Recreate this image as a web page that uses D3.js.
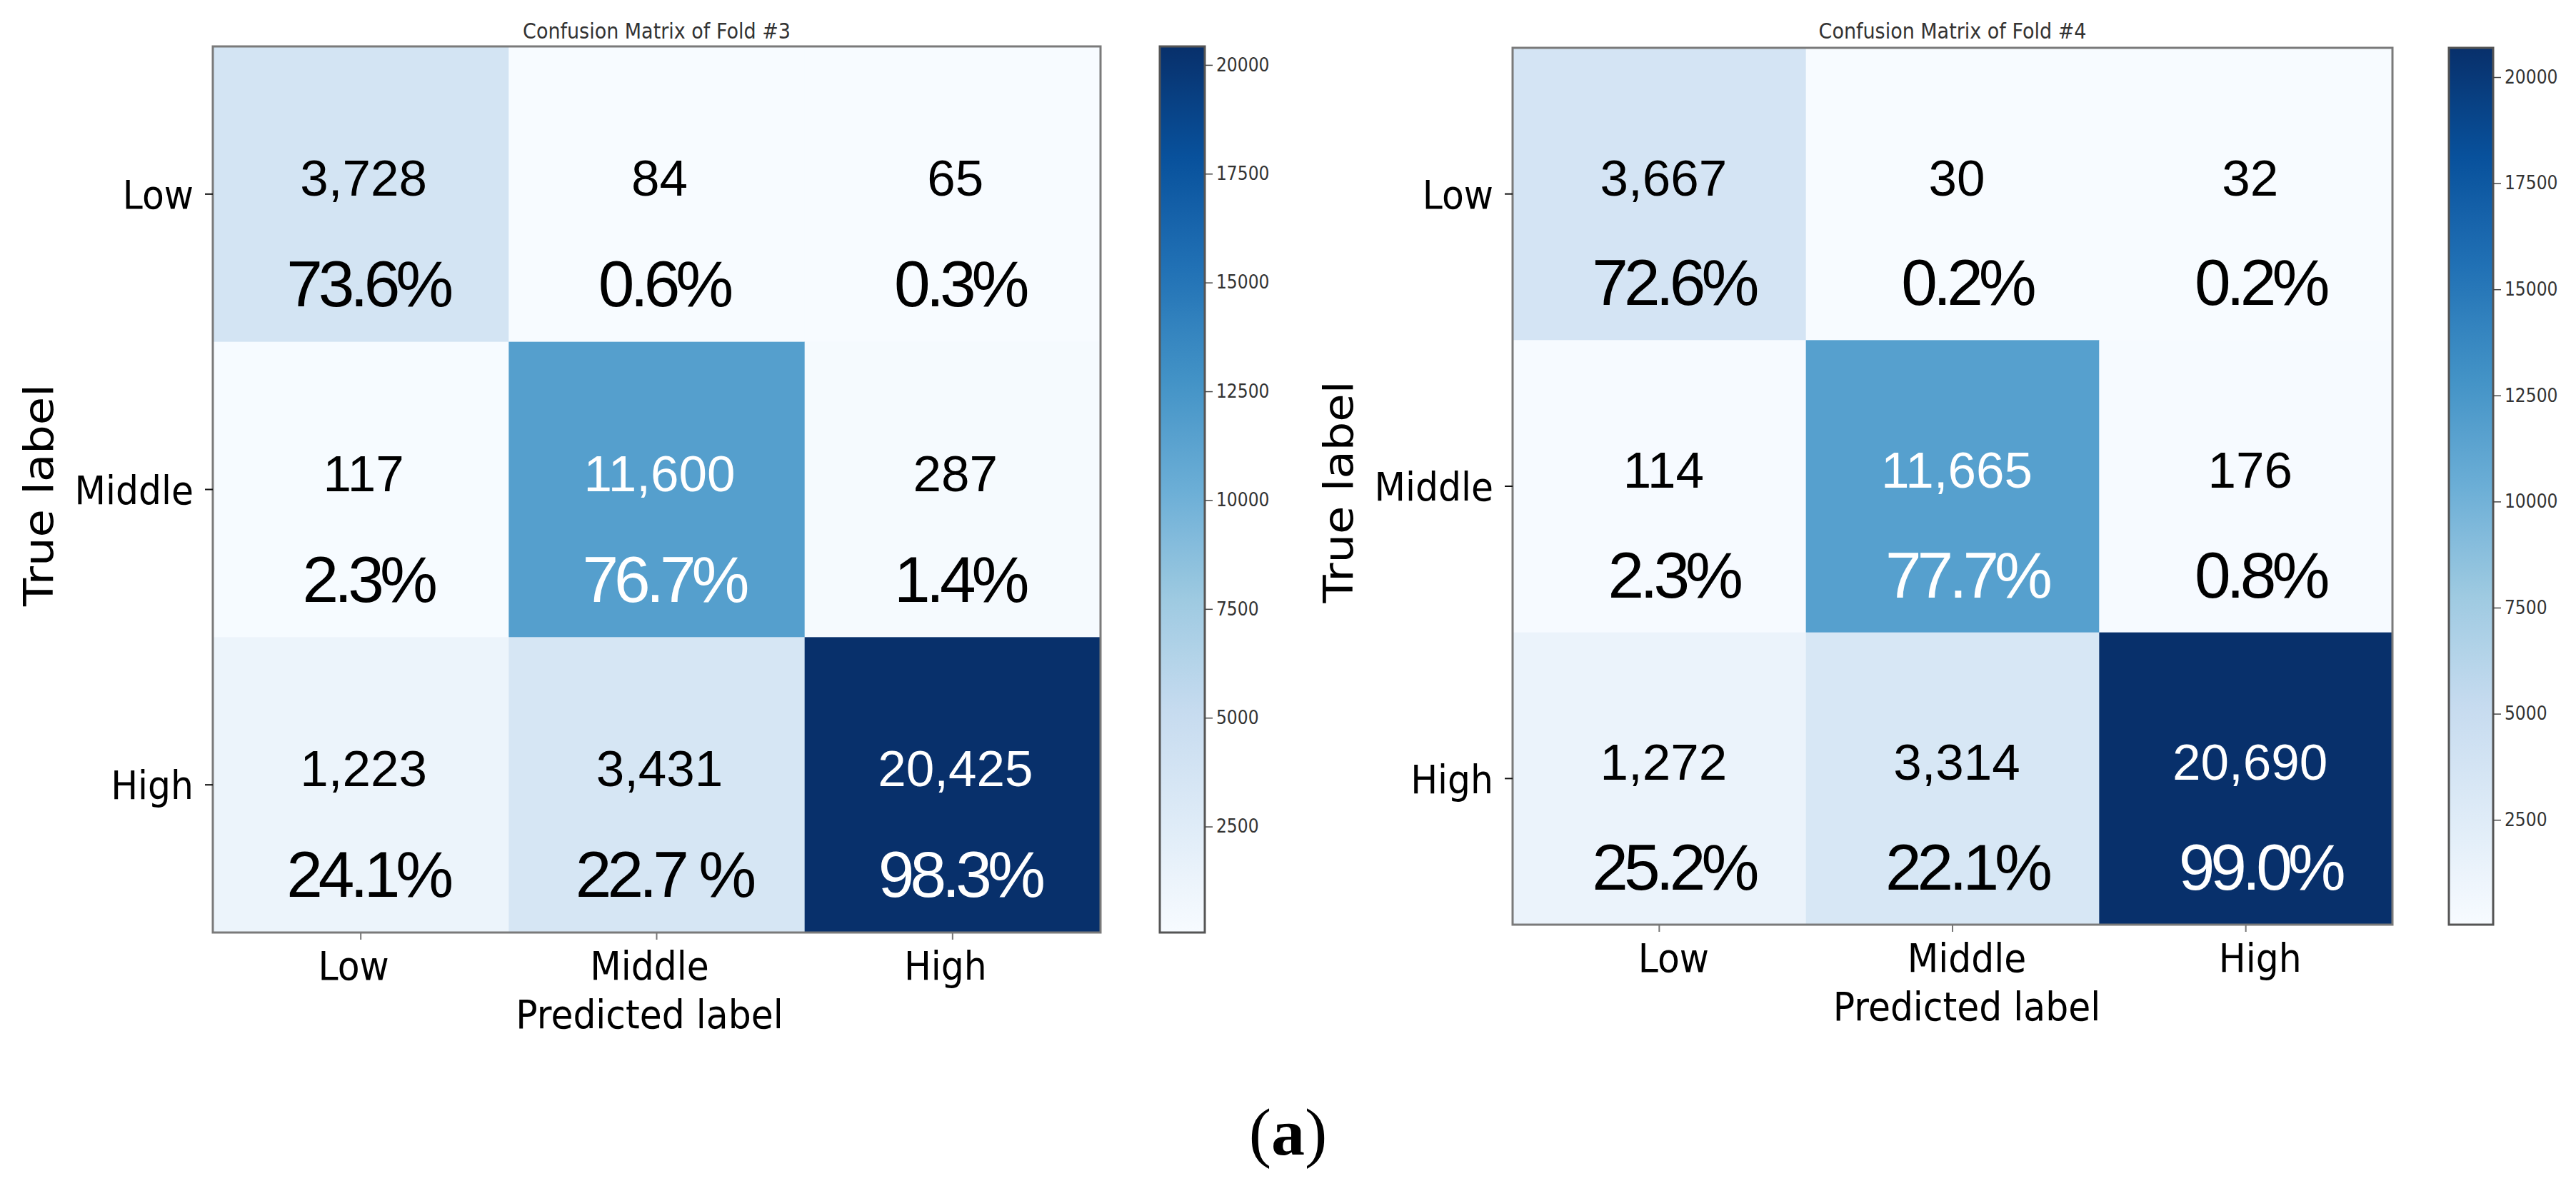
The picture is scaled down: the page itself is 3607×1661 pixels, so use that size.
<!DOCTYPE html>
<html>
<head>
<meta charset="utf-8">
<script src="https://cdn.jsdelivr.net/npm/d3@7"></script>
<style>
  html, body { margin: 0; padding: 0; background: #ffffff; }
  svg { display: block; }
</style>
</head>
<body>
<script>
// ---------------- data ----------------
const classes = ["Low", "Middle", "High"];
const titles = ["Confusion Matrix of Fold #3", "Confusion Matrix of Fold #4"];
const fold3Counts = [
  [3728, 84, 65],
  [117, 11600, 287],
  [1223, 3431, 20425]
];
const fold3Pcts = [
  ["73.6%", "0.6%", "0.3%"],
  ["2.3%", "76.7%", "1.4%"],
  ["24.1%", "22.7 %", "98.3%"]
];
const fold4Counts = [
  [3667, 30, 32],
  [114, 11665, 176],
  [1272, 3314, 20690]
];
const fold4Pcts = [
  ["72.6%", "0.2%", "0.2%"],
  ["2.3%", "77.7%", "0.8%"],
  ["25.2%", "22.1%", "99.0%"]
];
const colorbarTicks = [2500, 5000, 7500, 10000, 12500, 15000, 17500, 20000];
const xAxisTitle = "Predicted label";
const yAxisTitle = "True label";
const captionLetter = "a";

// ---------------- layout ----------------
const W = 3607, H = 1661;
const panels = [
  { x0: 298, x1: 1541, y0: 65, y1: 1306, cb0: 1624, cb1: 1687,
    countDx: 4, pctDx: 7, xLabDx: -10,
    counts: fold3Counts, pcts: fold3Pcts, title: titles[0] },
  { x0: 2118, x1: 3350, y0: 67, y1: 1295, cb0: 3429, cb1: 3491,
    countDx: 6, pctDx: 17, xLabDx: 20,
    counts: fold4Counts, pcts: fold4Pcts, title: titles[1] }
];
const SQ = 0.9; // horizontal squish of the DejaVu labels in the reference
const labelFont = "'DejaVu Sans', sans-serif";
const cellFont = "'Liberation Sans', Arial, sans-serif";

const svg = d3.select("body").append("svg")
  .attr("width", W).attr("height", H)
  .attr("viewBox", `0 0 ${W} ${H}`);
svg.append("rect").attr("width", W).attr("height", H).attr("fill", "#ffffff");
const defs = svg.append("defs");

panels.forEach((p, pi) => {
  const flat = p.counts.flat();
  const vmin = d3.min(flat), vmax = d3.max(flat);
  // matplotlib "Blues": the 9 ColorBrewer colours interpolated linearly
  const blues = d3.schemeBlues[9];
  const color = d3.scaleLinear()
    .domain(blues.map((_, i) => vmin + i * (vmax - vmin) / (blues.length - 1)))
    .range(blues)
    .interpolate(d3.interpolateRgb)
    .clamp(true);

  const x = d3.scaleBand().domain(classes).range([p.x0, p.x1]);
  const y = d3.scaleBand().domain(classes).range([p.y0, p.y1]);
  const bw = x.bandwidth(), bh = y.bandwidth();
  const g = svg.append("g");

  // cells
  const cells = [];
  p.counts.forEach((row, r) => row.forEach((v, c) => cells.push({ r, c, v, pct: p.pcts[r][c] })));
  g.selectAll("rect.cell").data(cells).join("rect")
    .attr("class", "cell")
    .attr("x", d => x(classes[d.c]))
    .attr("y", d => y(classes[d.r]))
    .attr("width", bw + 0.5)
    .attr("height", bh + 0.5)
    .attr("fill", d => color(d.v));

  const txtColor = d => d.v > vmax / 2 ? "#ffffff" : "#000000";
  g.selectAll("text.count").data(cells).join("text")
    .attr("class", "count")
    .attr("x", d => x(classes[d.c]) + bw / 2 + p.countDx)
    .attr("y", d => y(classes[d.r]) + bh * 0.505)
    .attr("text-anchor", "middle")
    .attr("font-family", cellFont)
    .attr("font-size", 71)
    .attr("fill", txtColor)
    .text(d => d3.format(",")(d.v));
  g.selectAll("text.pct").data(cells).join("text")
    .attr("class", "pct")
    .attr("x", d => x(classes[d.c]) + bw / 2 + 3 + p.pctDx)
    .attr("y", d => y(classes[d.r]) + bh * 0.88)
    .attr("text-anchor", "middle")
    .attr("font-family", cellFont)
    .attr("font-size", 91)
    .attr("letter-spacing", -6)
    .attr("fill", txtColor)
    .text(d => d.pct);

  // frame
  g.append("rect")
    .attr("x", p.x0).attr("y", p.y0)
    .attr("width", p.x1 - p.x0).attr("height", p.y1 - p.y0)
    .attr("fill", "none").attr("stroke", "#7a7a7a").attr("stroke-width", 3);

  // y axis
  const ya = g.append("g").attr("transform", `translate(${p.x0},0)`)
    .call(d3.axisLeft(y).tickSize(11));
  ya.select(".domain").remove();
  ya.selectAll(".tick line").attr("stroke", "#111").attr("stroke-width", 2);
  ya.selectAll(".tick text")
    .attr("x", -27 / SQ).attr("dy", "0.36em")
    .attr("transform", `scale(${SQ},1)`)
    .attr("font-family", labelFont).attr("font-size", 56).attr("fill", "#000");

  // x axis
  const xa = g.append("g").attr("transform", `translate(0,${p.y1})`)
    .call(d3.axisBottom(x).tickSize(10));
  xa.select(".domain").remove();
  xa.selectAll(".tick line").attr("stroke", "#777").attr("stroke-width", 2);
  xa.selectAll(".tick text")
    .attr("x", p.xLabDx / SQ)
    .attr("y", 66).attr("dy", 0)
    .attr("transform", `scale(${SQ},1)`)
    .attr("font-family", labelFont).attr("font-size", 56).attr("fill", "#000");

  // axis titles
  g.append("text")
    .attr("transform", `translate(${(p.x0 + p.x1) / 2 + p.xLabDx},${p.y1 + 134}) scale(${SQ},1)`)
    .attr("text-anchor", "middle")
    .attr("font-family", labelFont).attr("font-size", 56).attr("fill", "#000")
    .text(xAxisTitle);
  g.append("text")
    .attr("transform", `translate(${p.x0 - 224},${(p.y0 + p.y1) / 2 + 8}) rotate(-90) scale(1,${SQ})`)
    .attr("text-anchor", "middle")
    .attr("font-family", labelFont).attr("font-size", 64).attr("fill", "#000")
    .text(yAxisTitle);

  // title
  g.append("text")
    .attr("transform", `translate(${(p.x0 + p.x1) / 2},54) scale(${SQ},1)`)
    .attr("text-anchor", "middle")
    .attr("font-family", labelFont).attr("font-size", 30).attr("fill", "#333")
    .text(p.title);

  // colorbar
  const cbScale = d3.scaleLinear().domain([vmin, vmax]).range([p.y1, p.y0]);
  const gid = "cbgrad" + pi;
  const grad = defs.append("linearGradient").attr("id", gid)
    .attr("x1", 0).attr("y1", 1).attr("x2", 0).attr("y2", 0);
  d3.range(0, 1.0001, 1 / 32).forEach(t => {
    grad.append("stop").attr("offset", t).attr("stop-color", color(vmin + t * (vmax - vmin)));
  });
  g.append("rect")
    .attr("x", p.cb0).attr("y", p.y0)
    .attr("width", p.cb1 - p.cb0).attr("height", p.y1 - p.y0)
    .attr("fill", `url(#${gid})`)
    .attr("stroke", "#555").attr("stroke-width", 3);
  const ca = g.append("g").attr("transform", `translate(${p.cb1},0)`)
    .call(d3.axisRight(cbScale).tickValues(colorbarTicks).tickSize(11).tickFormat(d3.format("d")));
  ca.select(".domain").remove();
  ca.selectAll(".tick line").attr("stroke", "#444").attr("stroke-width", 1.5);
  ca.selectAll(".tick text")
    .attr("x", 16 / SQ)
    .attr("transform", `scale(${SQ},1)`)
    .attr("font-family", labelFont).attr("font-size", 26).attr("fill", "#333");
});

// caption "(a)" with bold letter
const cap = svg.append("text")
  .attr("x", W / 2).attr("y", 1617)
  .attr("text-anchor", "middle")
  .attr("font-family", "'Liberation Serif', 'Times New Roman', serif")
  .attr("font-size", 94)
  .attr("fill", "#000");
cap.append("tspan").text("(");
cap.append("tspan").attr("font-weight", "bold").text(captionLetter);
cap.append("tspan").text(")");
</script>
</body>
</html>
